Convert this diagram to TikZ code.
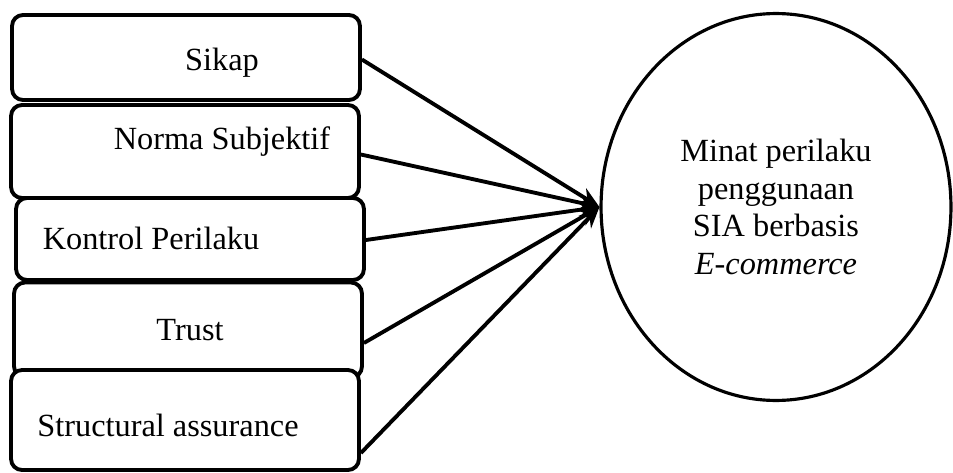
\documentclass[tikz,border=0pt]{standalone}
\usepackage{fontspec}
\setmainfont{Liberation Serif}
\usetikzlibrary{calc,shapes.geometric,arrows.meta}

\begin{document}
\begin{tikzpicture}[x=0.02cm, y=-0.02cm,
    factor/.style={draw, fill=white, line width=2.2pt, rounded corners=0.22cm,
        minimum width=6.96cm, inner sep=0pt},
    target/.style={draw, ellipse, line width=1.8pt, minimum width=7.0cm,
        minimum height=7.74cm, align=center},
    link/.style={line width=2.2pt, -{Stealth[length=12pt,width=10pt]}}]
    \fontsize{18.4}{21.5}\selectfont
    \useasboundingbox (0,0) rectangle (953,473);

    % Independent variables (stacked boxes)
    \node[factor, minimum height=1.7cm, label={[shift={(36,5)}]center:Sikap}] (sikap) at (186,57.5) {};
    \node[factor, minimum height=1.86cm, label={[shift={(37,-10)}]center:Norma Subjektif}] (norma) at (185,151.5) {};
    \node[factor, minimum height=1.64cm, label={[shift={(-39,-1)}]center:Kontrol Perilaku}] (kontrol) at (190,239) {};
    \node[factor, minimum height=1.9cm, label={[shift={(2,0)}]center:Trust}] (trust) at (188,330) {};
    \node[factor, minimum height=2.0cm, label={[shift={(-17,5)}]center:Structural assurance}] (assurance) at (185,420) {};

    % Dependent variable
    \node[target] (minat) at (776,207) {Minat perilaku\\penggunaan\\SIA berbasis\\\textit{E-commerce}};

    % Connectors
    \foreach \src/\dy in {sikap/2, norma/3, kontrol/1, trust/13, assurance/33} {
        \draw[link] ($(\src.east)+(0,\dy)$) -- (minat.west);
    }
\end{tikzpicture}
\end{document}
